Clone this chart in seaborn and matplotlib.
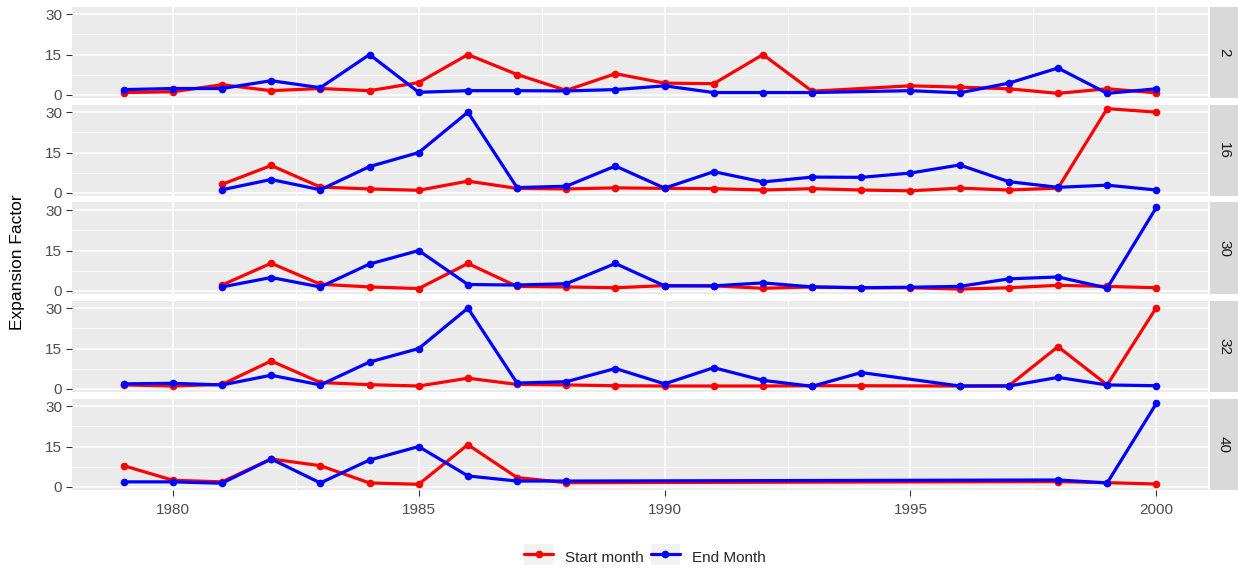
import numpy as np
import pandas as pd
import matplotlib
matplotlib.use("Agg")
import matplotlib.pyplot as plt
import seaborn as sns
from matplotlib.lines import Line2D
from matplotlib.patches import Rectangle
from matplotlib.legend_handler import HandlerLine2D
from matplotlib.ticker import MultipleLocator

nan = np.nan
years = list(range(1979, 2001))
panels = ["2", "16", "30", "32", "40"]
series_names = ["Start month", "End Month"]

# Expansion factor by year for each panel (NaN = no observation that year)
start_2 = [0.9, 1.2, 3.8, 1.6, 2.4, 1.6, 4.6, 15.0, 7.6, 1.7, 7.9, 4.4, 4.2, 15.0, 1.4, nan, 3.4, 2.9, 2.3, 0.6, 2.3, 0.8]
end_2 = [2.0, 2.4, 2.4, 5.3, 2.7, 15.0, 1.0, 1.6, 1.6, 1.5, 2.0, 3.4, 0.9, 0.9, 0.9, nan, 1.6, 0.8, 4.4, 10.0, 0.6, 2.3]

start_16 = [nan, nan, 3.2, 10.2, 2.2, 1.5, 1.0, 4.4, 1.7, 1.5, 1.9, 1.7, 1.6, 1.1, 1.6, 1.1, 0.8, 1.8, 1.1, 1.8, 31.3, 30.0]
end_16 = [nan, nan, 1.2, 5.0, 1.2, 9.8, 15.0, 30.0, 2.0, 2.5, 10.0, 1.8, 7.9, 4.1, 5.9, 5.8, 7.4, 10.4, 4.2, 2.1, 2.9, 1.1]

start_30 = [nan, nan, 2.2, 10.3, 2.5, 1.5, 0.9, 10.2, 1.7, 1.5, 1.2, 2.0, 1.9, 1.0, 1.5, 1.2, 1.2, 0.7, 1.2, 2.1, 1.7, 1.2]
end_30 = [nan, nan, 1.5, 5.0, 1.5, 10.0, 15.0, 2.4, 2.2, 2.7, 10.2, 1.9, 1.9, 3.0, 1.5, 1.2, 1.4, 1.7, 4.5, 5.2, 1.1, 31.0]

start_32 = [1.5, 1.1, 1.7, 10.4, 2.4, 1.6, 1.1, 4.0, 1.7, 1.5, 1.2, 1.1, 1.1, 1.1, 1.2, 1.2, nan, 1.1, 1.2, 15.7, 1.5, 30.2]
end_32 = [1.9, 2.1, 1.5, 5.1, 1.5, 10.0, 15.0, 30.0, 2.2, 2.7, 7.6, 1.9, 7.9, 3.2, 1.0, 6.1, nan, 1.1, 1.1, 4.3, 1.5, 1.2]

start_40 = [7.9, 2.5, 1.9, 10.4, 7.9, 1.5, 1.0, 15.7, 3.5, 1.6,
            nan, nan, nan, nan, nan, nan, nan, nan, nan, 2.0, 1.6, 1.1]
end_40 = [1.9, 1.9, 1.4, 10.4, 1.5, 10.0, 15.0, 4.1, 2.2, 2.2,
          nan, nan, nan, nan, nan, nan, nan, nan, nan, 2.6, 1.5, 31.0]

series = {
    "2": (start_2, end_2),
    "16": (start_16, end_16),
    "30": (start_30, end_30),
    "32": (start_32, end_32),
    "40": (start_40, end_40),
}

rows = []
for p in panels:
    for name, vals in zip(series_names, series[p]):
        for y, v in zip(years, vals):
            rows.append({"panel": p, "Year": y, "Series": name, "Value": v})
df = pd.DataFrame(rows).dropna()

palette = {"Start month": "#FF0000", "End Month": "#0000FF"}

sns.set_theme(style="darkgrid")
plt.rcParams["font.family"] = ["Liberation Sans", "DejaVu Sans"]

W, H = 1238, 569
fig = plt.figure(figsize=(W / 100, H / 100), dpi=100)

left_px, right_px = 72, 1208
top0, panel_h, step = 6.5, 91, 98

vmin, vmax = df["Value"].min(), df["Value"].max()
pad = 0.05 * (vmax - vmin)
ylim = (vmin - pad, vmax + pad)
xlim = (1979 - 0.05 * 21, 2000 + 0.05 * 21)

for i, p in enumerate(panels):
    top = top0 + step * i
    rect = [left_px / W, 1 - (top + panel_h) / H, (right_px - left_px) / W, panel_h / H]
    ax = fig.add_axes(rect)
    ax.set_facecolor("#EBEBEB")
    sub = df[df["panel"] == p]
    sns.lineplot(data=sub, x="Year", y="Value", hue="Series", hue_order=series_names,
                 palette=palette, marker="o", markersize=5.5, markeredgewidth=0,
                 linewidth=2.3, legend=False, ax=ax, estimator=None, sort=True)
    ax.set_xlim(*xlim)
    ax.set_ylim(*ylim)
    ax.xaxis.set_major_locator(MultipleLocator(5))
    ax.xaxis.set_minor_locator(MultipleLocator(2.5))
    ax.yaxis.set_major_locator(MultipleLocator(15))
    ax.yaxis.set_minor_locator(MultipleLocator(7.5))
    ax.grid(which="major", color="white", linewidth=1.1)
    ax.grid(which="minor", color="white", linewidth=0.55)
    ax.set_axisbelow(True)
    for s in ax.spines.values():
        s.set_visible(False)
    ax.tick_params(axis="both", which="major", length=4, width=0.8, color="#333333",
                   labelcolor="#4D4D4D", labelsize=11, pad=3, left=True, bottom=True)
    ax.tick_params(axis="x", which="major", pad=6)
    ax.tick_params(axis="both", which="minor", length=0)
    ax.set_xlabel("")
    ax.set_ylabel("")
    if i < len(panels) - 1:
        ax.tick_params(axis="x", labelbottom=False, bottom=False)
    # facet strip on the right
    srect = [(right_px + 2) / W, rect[1], (W - right_px - 2) / W, rect[3]]
    sax = fig.add_axes(srect)
    sax.set_facecolor("#D9D9D9")
    sax.set_xticks([])
    sax.set_yticks([])
    for s in sax.spines.values():
        s.set_visible(False)
    sax.text(0.5, 0.5, p, rotation=-90, ha="center", va="center",
             color="#1A1A1A", fontsize=11, transform=sax.transAxes)

fig.text(18 / W, 1 - 262 / H, "Expansion Factor", rotation=90, ha="center",
         va="center", fontsize=12.5, color="black")


class KeyHandler(HandlerLine2D):
    """Legend key drawn over a light grey square, ggplot style."""

    def create_artists(self, legend, orig_handle, xdescent, ydescent, width, height,
                       fontsize, trans):
        artists = super().create_artists(legend, orig_handle, xdescent, ydescent,
                                         width, height, fontsize, trans)
        yc = (height - ydescent) / 2.0
        bg = Rectangle((-xdescent, yc - height / 2.0), width, height,
                       facecolor="#F2F2F2", edgecolor="none", transform=trans)
        for a in artists:
            if isinstance(a, Line2D) and len(a.get_xdata()) == 2:
                a.set_xdata([-xdescent + 0.12 * width, -xdescent + 0.88 * width])
        return [bg] + artists


handles = [Line2D([0], [0], color=palette[n], lw=2.3, marker="o", markersize=5.5,
                  markeredgewidth=0) for n in series_names]
fig.legend(handles, series_names, loc="center", bbox_to_anchor=(645 / W, 1 - 557 / H),
           ncol=2, frameon=False, fontsize=11, handlelength=1.85, handleheight=1.7,
           columnspacing=0.5, handletextpad=0.8,
           handler_map={Line2D: KeyHandler(numpoints=1)})

fig.savefig("out.png", dpi=100)
